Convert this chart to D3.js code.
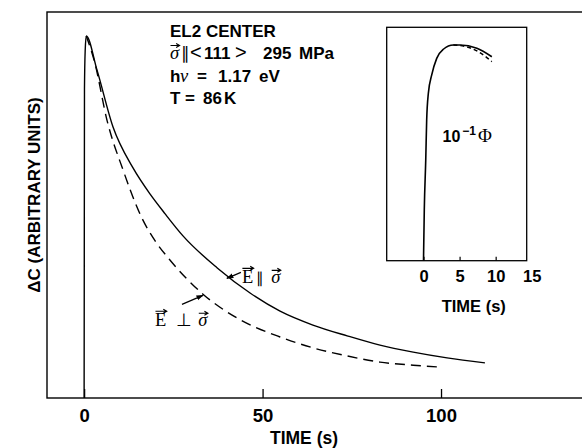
<!DOCTYPE html>
<html>
<head>
<meta charset="utf-8">
<script src="https://cdn.jsdelivr.net/npm/d3@7"></script>
<style>
body { margin: 0; background: #fff; }
</style>
</head>
<body>
<svg id="chart" width="582" height="448"></svg>
<script>
// main panel (time in s, signal in arbitrary units)
const mainTicks = [0, 50, 100];
const parTime   = [0, 0.1, 0.3, 0.6, 3.6, 8.1, 13.7, 18.5, 22.7, 27.7, 37.3, 46.5, 54.9, 64.1, 73.7, 82.9, 92.2, 101.7, 112.3];
const parSignal = [0, 0.80, 0.90, 0.938, 0.85, 0.702, 0.596, 0.528, 0.477, 0.420, 0.337, 0.272, 0.225, 0.189, 0.161, 0.137, 0.119, 0.104, 0.091];
const perpTime   = [0.6, 3.0, 6.4, 10.9, 16.2, 19.9, 24.1, 33.3, 42.9, 54.9, 64.1, 73.7, 82.9, 92.2, 99.7];
const perpSignal = [0.938, 0.868, 0.72, 0.591, 0.466, 0.407, 0.357, 0.269, 0.207, 0.158, 0.130, 0.109, 0.093, 0.085, 0.080];

// inset, first 10 s
const insetTicks = [0, 5, 10, 15];
const insetParTime   = [0, 0.11, 0.31, 0.44, 0.67, 1.14, 1.83, 2.75, 4.14, 5.07, 7.39, 9.47];
const insetParSignal = [0, 0.219, 0.431, 0.603, 0.717, 0.796, 0.867, 0.906, 0.924, 0.924, 0.910, 0.874];
const insetPerpTime   = [4.14, 5.07, 7.39, 9.47];
const insetPerpSignal = [0.924, 0.922, 0.899, 0.853];

const sans = '"Liberation Sans", Arial, Helvetica, sans-serif';
const serif = '"Liberation Serif", "Times New Roman", serif';

const svg = d3.select('#chart');

const x = d3.scaleLinear().domain([-10.4, 139.5]).range([47, 582]);
const y = d3.scaleLinear().domain([0, 1]).range([398, 12]);
const xIn = d3.scaleLinear().domain([-5.1, 14.3]).range([386.7, 526.7]);
const yIn = d3.scaleLinear().domain([0, 1]).range([260.7, 27.3]);

const zip = (a, b) => a.map((d, i) => [d, b[i]]);

// arrow head for the pointers
svg.append('defs').append('marker')
    .attr('id', 'head')
    .attr('viewBox', '0 0 10 10')
    .attr('refX', 9).attr('refY', 5)
    .attr('markerWidth', 6).attr('markerHeight', 6)
    .attr('orient', 'auto')
    .append('path').attr('d', 'M0,1.5L10,5L0,8.5Z').attr('fill', '#000');

// main frame
svg.append('rect')
    .attr('x', x(-10.4)).attr('y', y(1))
    .attr('width', x(139.5) - x(-10.4) + 10)
    .attr('height', y(0) - y(1))
    .attr('fill', 'none').attr('stroke', '#000').attr('stroke-width', 1.4);

// main x axis, ticks pointing inside
const xAxis = svg.append('g')
    .attr('transform', 'translate(0,' + y(0) + ')')
    .call(d3.axisBottom(x).tickValues(mainTicks).tickSize(-9).tickSizeOuter(0).tickPadding(11));
xAxis.select('.domain').remove();
xAxis.selectAll('line').attr('stroke-width', 1.3);
xAxis.selectAll('text')
    .attr('font-family', sans).attr('font-weight', 'bold').attr('font-size', 18.5);

svg.append('text')
    .attr('x', 304).attr('y', 444)
    .attr('text-anchor', 'middle')
    .attr('font-family', sans).attr('font-weight', 'bold').attr('font-size', 17.5)
    .text('TIME (s)');

svg.append('text')
    .attr('transform', 'translate(40,195) rotate(-90)')
    .attr('text-anchor', 'middle')
    .attr('font-family', sans).attr('font-weight', 'bold').attr('font-size', 17)
    .text('ΔC (ARBITRARY UNITS)');

// curves
const line = d3.line().x(d => x(d[0])).y(d => y(d[1])).curve(d3.curveMonotoneX);

svg.append('path')
    .attr('d', line(zip(perpTime, perpSignal)))
    .attr('fill', 'none').attr('stroke', '#000').attr('stroke-width', 1.4)
    .attr('stroke-dasharray', '10,6');

svg.append('path')
    .attr('d', line(zip(parTime, parSignal)))
    .attr('fill', 'none').attr('stroke', '#000').attr('stroke-width', 1.4);

// small vector arrow above a glyph
function vecArrow(t, i, base, lift) {
    const b = t.node().getExtentOfChar(i);
    const x0 = b.x + 0.5, x1 = b.x + b.width + 0.5, yy = base - lift;
    svg.append('path')
        .attr('d', 'M' + x0 + ',' + yy + 'H' + x1 + 'M' + (x1 - 3.5) + ',' + (yy - 2) + 'L' + x1 + ',' + yy + 'L' + (x1 - 3.5) + ',' + (yy + 2))
        .attr('fill', 'none').attr('stroke', '#000').attr('stroke-width', 1.1);
}

function vecLabel(lx, ly, mid, midSize, gap1, gap2) {
    const t = svg.append('text')
        .attr('x', lx).attr('y', ly)
        .attr('font-family', serif).attr('font-size', 18.5);
    t.append('tspan').text('E');
    t.append('tspan').attr('dx', gap1).attr('font-size', midSize).text(mid);
    t.append('tspan').attr('dx', gap2).attr('font-style', 'italic').text('σ');
    vecArrow(t, 0, ly, 15);
    vecArrow(t, 2, ly, 13);
}

// E parallel sigma label and pointer
const parTip = [40, 0.31];
vecLabel(x(parTip[0]) + 15, y(parTip[1]) + 5, '∥', 15, 3, 7);
svg.append('line')
    .attr('x1', x(parTip[0]) + 14).attr('y1', y(parTip[1]) - 6)
    .attr('x2', x(parTip[0])).attr('y2', y(parTip[1]))
    .attr('stroke', '#000').attr('stroke-width', 1.2).attr('marker-end', 'url(#head)');

// E perpendicular sigma label and pointer
const perpTip = [33.3, 0.266];
vecLabel(x(perpTip[0]) - 48, y(perpTip[1]) + 31, '⊥', 18, 10, 6);
svg.append('line')
    .attr('x1', x(perpTip[0]) - 21).attr('y1', y(perpTip[1]) + 9)
    .attr('x2', x(perpTip[0])).attr('y2', y(perpTip[1]))
    .attr('stroke', '#000').attr('stroke-width', 1.2).attr('marker-end', 'url(#head)');

// text block
const info = svg.append('g')
    .attr('font-family', sans).attr('font-weight', 'bold').attr('font-size', 17);
info.append('text').attr('x', 170).attr('y', 36.5).text('EL2 CENTER');

const l2 = info.append('text').attr('y', 58.5);
l2.append('tspan').attr('x', 170).attr('font-family', serif).attr('font-style', 'italic').attr('font-weight', 'normal').attr('font-size', 18.5).text('σ');
l2.append('tspan').attr('x', 181).attr('font-weight', 'normal').text('∥');
l2.append('tspan').attr('x', 190).attr('font-weight', 'normal').attr('font-size', 20).text('<');
l2.append('tspan').attr('x', 204).text('111');
l2.append('tspan').attr('x', 235).attr('font-weight', 'normal').attr('font-size', 20).text('>');
l2.append('tspan').attr('x', 263).text('295');
l2.append('tspan').attr('x', 299).text('MPa');
vecArrow(l2, 0, 58.5, 13);

const l3 = info.append('text').attr('y', 81.5);
l3.append('tspan').attr('x', 170).text('h');
l3.append('tspan').attr('x', 180).attr('font-family', serif).attr('font-style', 'italic').attr('font-weight', 'normal').attr('font-size', 18.5).text('ν');
l3.append('tspan').attr('x', 197).text('=');
l3.append('tspan').attr('x', 218).text('1.17');
l3.append('tspan').attr('x', 259).text('eV');

const l4 = info.append('text').attr('y', 103.5);
l4.append('tspan').attr('x', 170).text('T');
l4.append('tspan').attr('x', 185).text('=');
l4.append('tspan').attr('x', 203).text('86');
l4.append('tspan').attr('x', 224).text('K');

// inset
svg.append('rect')
    .attr('x', xIn(-5.1)).attr('y', yIn(1))
    .attr('width', xIn(14.3) - xIn(-5.1))
    .attr('height', yIn(0) - yIn(1))
    .attr('fill', '#fff').attr('stroke', '#000').attr('stroke-width', 1.3);

const inAxis = svg.append('g')
    .attr('transform', 'translate(0,' + yIn(0) + ')')
    .call(d3.axisBottom(xIn).tickValues(insetTicks).tickSize(-4).tickSizeOuter(0).tickPadding(10));
inAxis.select('.domain').remove();
inAxis.selectAll('line').attr('stroke-width', 1.2).attr('display', d => d > 14.3 ? 'none' : null);
inAxis.selectAll('text')
    .attr('font-family', sans).attr('font-weight', 'bold').attr('font-size', 16.5);

svg.append('text')
    .attr('x', 441.7).attr('y', 311.5)
    .attr('font-family', sans).attr('font-weight', 'bold').attr('font-size', 16.5)
    .text('TIME (s)');

const lineIn = d3.line().x(d => xIn(d[0])).y(d => yIn(d[1])).curve(d3.curveMonotoneX);

svg.append('path')
    .attr('d', lineIn(zip(insetPerpTime, insetPerpSignal)))
    .attr('fill', 'none').attr('stroke', '#000').attr('stroke-width', 1.5)
    .attr('stroke-dasharray', '4,3');

svg.append('path')
    .attr('d', lineIn(zip(insetParTime, insetParSignal)))
    .attr('fill', 'none').attr('stroke', '#000').attr('stroke-width', 1.6);

const phi = svg.append('text')
    .attr('x', 442.5).attr('y', 141.5)
    .attr('font-family', sans).attr('font-weight', 'bold').attr('font-size', 16);
phi.append('tspan').text('10');
phi.append('tspan').attr('dx', 2).attr('dy', -7).attr('font-size', 12).text('−1');
phi.append('tspan').attr('dx', 2).attr('dy', 7).attr('font-family', serif).attr('font-weight', 'normal').attr('font-size', 19).text('Φ');
</script>
</body>
</html>
